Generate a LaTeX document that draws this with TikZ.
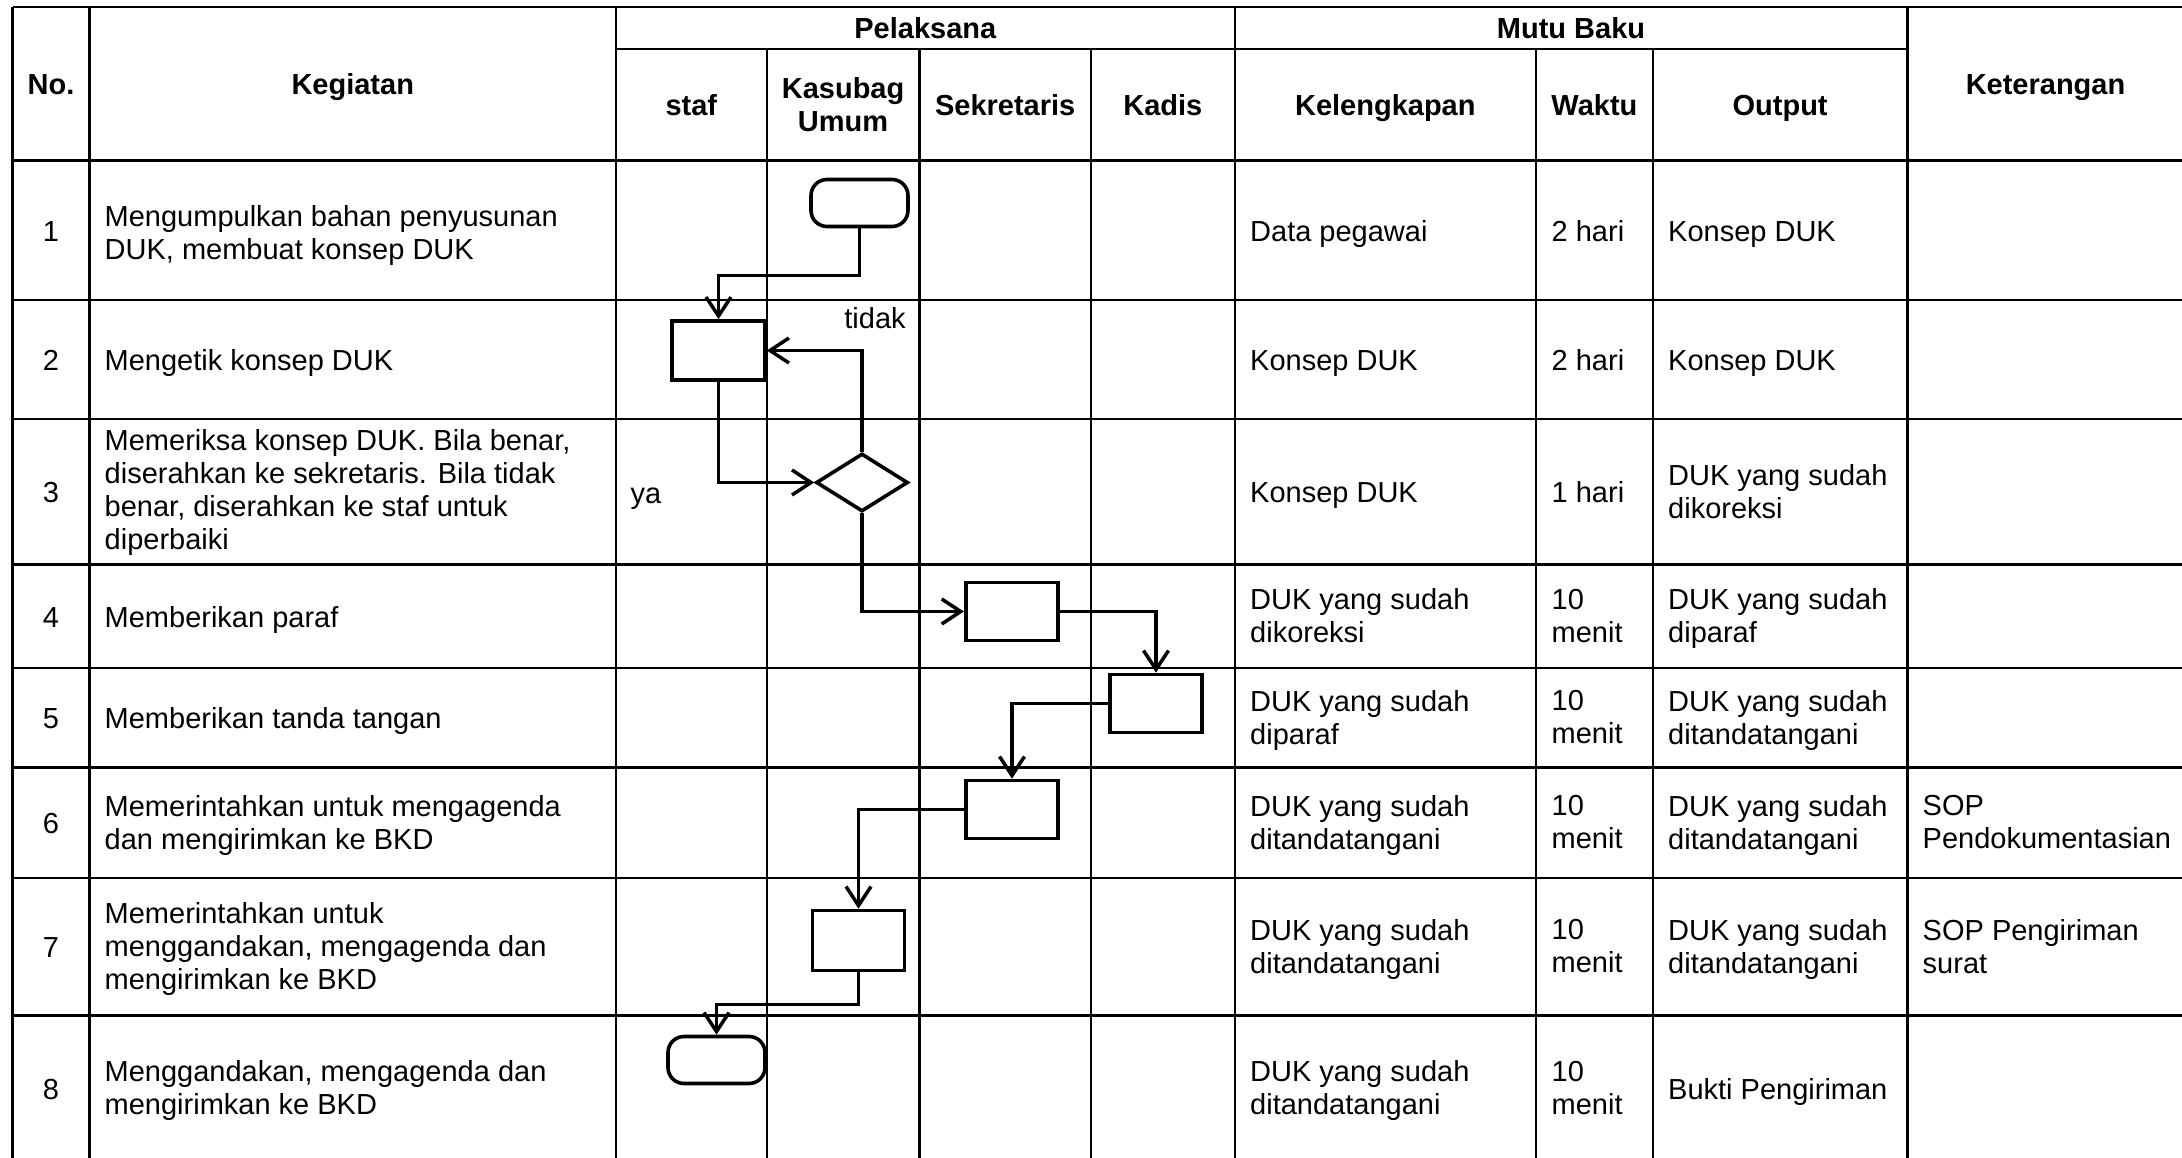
\documentclass[tikz,border=0pt]{standalone}
\usepackage{fontspec}
\setmainfont{Liberation Sans}
\usetikzlibrary{arrows.meta,shapes.geometric}
\begin{document}
\begin{tikzpicture}[x=1pt,y=-1pt,
  gridline/.style={line width=2.2pt},
  basetext/.style={inner sep=0pt, yshift=-4.5pt, execute at begin node=\strut, execute at end node=\strut},
  txt/.style={basetext, anchor=west, align=left, font=\fontsize{29}{33}\selectfont},
  ctr/.style={basetext, align=center, font=\fontsize{29}{33}\selectfont},
  hdr/.style={basetext, align=center, font=\fontsize{29}{33}\selectfont\bfseries},
  box/.style={draw, line width=3.6pt, rectangle, minimum width=92pt, minimum height=58pt, inner sep=0pt},
  term/.style={draw, line width=3.6pt, rectangle, rounded corners=16pt, minimum width=97pt, minimum height=47pt, inner sep=0pt},
  dec/.style={draw, line width=3.6pt, diamond, minimum width=92pt, minimum height=58pt, inner sep=0pt},
  arr/.style={-{Straight Barb[length=19pt,width=25pt,line width=3.5pt]}, line width=3.3pt}]
\useasboundingbox (0,0) rectangle (2182,1158);
% grid
\draw[gridline] (12.5,7) -- (2182,7);
\draw[gridline] (616,49) -- (1907.4,49);
\foreach \yy in {160.5,300,419,564.5,668,767.5,878,1015.5}
  \draw[gridline] (12.5,\yy) -- (2182,\yy);
\foreach \xx in {12.5,89.5,616,1234.7,1907.4}
  \draw[gridline] (\xx,7) -- (\xx,1160);
\foreach \xx in {766.7,919.5,1091,1536,1652.8}
  \draw[gridline] (\xx,49) -- (\xx,1160);
% headers
\node[hdr] (hno) at (51,83.75) {No.};
\node[hdr] (hkeg) at (352.75,83.75) {Kegiatan};
\node[hdr] (hpel) at (925.3,27) {Pelaksana};
\node[hdr] (hmutu) at (1571,27) {Mutu Baku};
\node[hdr] (hket) at (2045.5,83.75) {Keterangan};
\node[hdr] (hstaf) at (691.3,104.75) {staf};
\node[hdr] (hkas) at (843.1,104.75) {Kasubag\\Umum};
\node[hdr] (hsek) at (1005.2,104.75) {Sekretaris};
\node[hdr] (hkad) at (1162.8,104.75) {Kadis};
\node[hdr] (hkel) at (1385.3,104.75) {Kelengkapan};
\node[hdr] (hwak) at (1594.4,104.75) {Waktu};
\node[hdr] (hout) at (1780.1,104.75) {Output};
% numbers
\node[ctr] (no1) at (51,230.25) {1};
\node[ctr] (no2) at (51,359.5) {2};
\node[ctr] (no3) at (51,491.75) {3};
\node[ctr] (no4) at (51,616.25) {4};
\node[ctr] (no5) at (51,717.75) {5};
\node[ctr] (no6) at (51,822.75) {6};
\node[ctr] (no7) at (51,946.5) {7};
\node[ctr] (no8) at (51,1088) {8};
% kegiatan
\node[txt] (k1) at (104.5,232.5) {Mengumpulkan bahan penyusunan\\DUK, membuat konsep DUK};
\node[txt] (k2) at (104.5,359.5) {Mengetik konsep DUK};
\node[txt] (k3) at (104.5,490) {Memeriksa konsep DUK. Bila benar,\\diserahkan ke sekretaris. Bila tidak\\benar, diserahkan ke staf untuk\\diperbaiki};
\node[txt] (k4) at (104.5,616.25) {Memberikan paraf};
\node[txt] (k5) at (104.5,717.75) {Memberikan tanda tangan};
\node[txt] (k6) at (104.5,822.75) {Memerintahkan untuk mengagenda\\dan mengirimkan ke BKD};
\node[txt] (k7) at (104.5,946.5) {Memerintahkan untuk\\menggandakan, mengagenda dan\\mengirimkan ke BKD};
\node[txt] (k8) at (104.5,1088) {Menggandakan, mengagenda dan\\mengirimkan ke BKD};
% kelengkapan
\node[txt] (l1) at (1250,230.25) {Data pegawai};
\node[txt] (l2) at (1250,359.5) {Konsep DUK};
\node[txt] (l3) at (1250,491.75) {Konsep DUK};
\node[txt] (l4) at (1250,616.25) {DUK yang sudah\\dikoreksi};
\node[txt] (l5) at (1250,717.75) {DUK yang sudah\\diparaf};
\node[txt] (l6) at (1250,822.75) {DUK yang sudah\\ditandatangani};
\node[txt] (l7) at (1250,946.5) {DUK yang sudah\\ditandatangani};
\node[txt] (l8) at (1250,1088) {DUK yang sudah\\ditandatangani};
% waktu
\node[txt] (w1) at (1551.5,230.25) {2 hari};
\node[txt] (w2) at (1551.5,359.5) {2 hari};
\node[txt] (w3) at (1551.5,491.75) {1 hari};
\node[txt] (w4) at (1551.5,616.25) {10\\menit};
\node[txt] (w5) at (1551.5,717.75) {10\\menit};
\node[txt] (w6) at (1551.5,822.75) {10\\menit};
\node[txt] (w7) at (1551.5,946.5) {10\\menit};
\node[txt] (w8) at (1551.5,1088) {10\\menit};
% output
\node[txt] (o1) at (1668,230.25) {Konsep DUK};
\node[txt] (o2) at (1668,359.5) {Konsep DUK};
\node[txt] (o3) at (1668,491.75) {DUK yang sudah\\dikoreksi};
\node[txt] (o4) at (1668,616.25) {DUK yang sudah\\diparaf};
\node[txt] (o5) at (1668,717.75) {DUK yang sudah\\ditandatangani};
\node[txt] (o6) at (1668,822.75) {DUK yang sudah\\ditandatangani};
\node[txt] (o7) at (1668,946.5) {DUK yang sudah\\ditandatangani};
\node[txt] (o8) at (1668,1088) {Bukti Pengiriman};
% keterangan
\node[txt] (ket6) at (1922.5,822.75) {SOP\\Pendokumentasian};
\node[txt] (ket7) at (1922.5,946.5) {SOP Pengiriman\\surat};
% flow shapes
\node[term] (t1) at (859.5,203) {};
\node[box, minimum width=93pt, minimum height=59pt] (r2) at (718.5,350.5) {};
\node[dec] (d3) at (862,482.5) {};
\node[box] (r4) at (1011.7,611.5) {};
\node[box] (r5) at (1156,703.5) {};
\node[box] (r6) at (1012,809.5) {};
\node[box, minimum height=60pt] (r7) at (858.5,940.5) {};
\node[term] (t8) at (716.5,1060) {};
% labels
\node[ctr] (ltidak) at (875,317.5) {tidak};
\node[ctr] (lya) at (646,492) {ya};
% connectors
\draw[arr] (t1.south) -- ++(0,47) -| (r2.north);
\draw[arr] (d3.north) |- (r2.east);
\draw[arr] (r2.south) |- (d3.west);
\draw[arr] (d3.south) |- (r4.west);
\draw[arr] (r4.east) -| (r5.north);
\draw[arr] (r5.west) -| (r6.north);
\draw[arr] (r6.west) -| (r7.north);
\draw[arr] (r7.south) -- ++(0,32.5) -| (t8.north);
\end{tikzpicture}
\end{document}
